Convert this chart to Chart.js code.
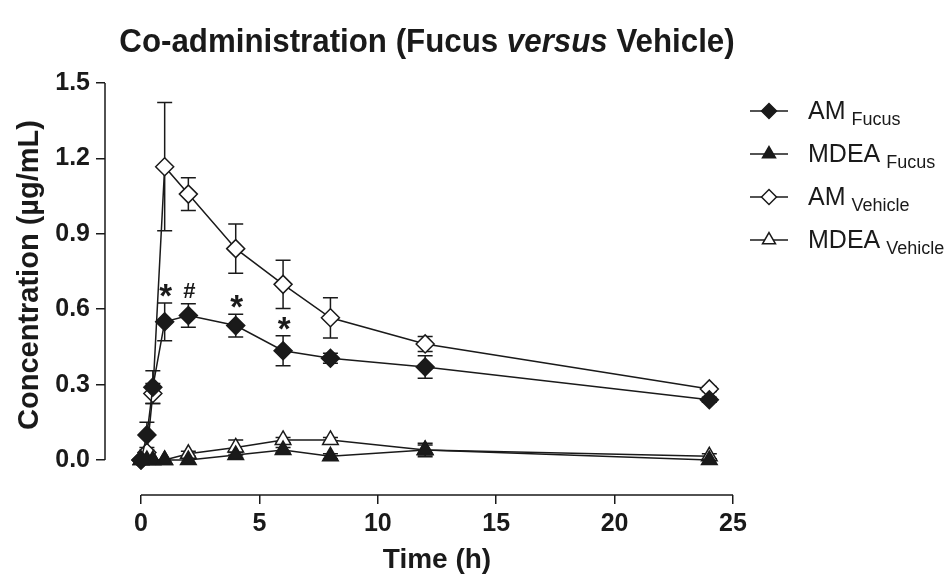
<!DOCTYPE html>
<html>
<head>
<meta charset="utf-8">
<title>Co-administration (Fucus versus Vehicle)</title>
<script src="https://cdn.jsdelivr.net/npm/chart.js@4.4.1/dist/chart.umd.min.js"></script>
<style>
  html, body { margin: 0; padding: 0; background: #fff; }
  #wrap { width: 952px; height: 574px; }
</style>
</head>
<body>
<div id="wrap"><canvas id="chart" width="952" height="574"></canvas></div>
<script>
// Sampling times (h)
const times = [0, 0.25, 0.5, 1, 2, 4, 6, 8, 12, 24];

// Mean concentration (µg/mL) and SEM per group
const amFucus        = [0, 0.10, 0.29, 0.55, 0.575, 0.535, 0.435, 0.405, 0.37, 0.24];
const amFucusSem     = [0, 0.05, 0.065, 0.075, 0.047, 0.045, 0.06, 0.02, 0.045, 0.01];
const mdeaFucus      = [0, 0, 0, 0, 0.0, 0.02, 0.04, 0.015, 0.04, 0.0];
const mdeaFucusSem   = [0, 0, 0, 0, 0, 0.01, 0.01, 0.01, 0.027, 0];
const amVehicle      = [0, 0.03, 0.265, 1.167, 1.058, 0.841, 0.699, 0.566, 0.462, 0.283];
const amVehicleSem   = [0, 0.01, 0.04, 0.255, 0.065, 0.098, 0.096, 0.08, 0.03, 0.01];
const mdeaVehicle    = [0, 0, 0, 0, 0.025, 0.05, 0.08, 0.08, 0.04, 0.015];
const mdeaVehicleSem = [0, 0, 0, 0, 0.01, 0.03, 0.01, 0.01, 0.02, 0.01];

// Legend text: main name + subscript group
const legendMain = ['AM', 'MDEA', 'AM', 'MDEA'];
const legendSub  = ['Fucus', 'Fucus', 'Vehicle', 'Vehicle'];

// Axis ticks
const xTicks = [0, 5, 10, 15, 20, 25];
const yTicks = [0, 0.3, 0.6, 0.9, 1.2, 1.5];

// Significance marks shown above AM Fucus
const markTimes   = [1, 2, 4, 6];
const markSymbols = ['*', '#', '*', '*'];

const INK = '#1a1a1a';
const SANS = '"Liberation Sans", Arial, Helvetica, sans-serif';

function series(values, sem, style, filled) {
  return {
    data: times.map((t, i) => ({ x: t, y: values[i] })),
    sem: sem,
    borderColor: INK,
    borderWidth: 1.5,
    pointStyle: style,
    pointRadius: style === 'triangle' ? 9 : 9,
    pointBackgroundColor: filled ? INK : '#fff',
    pointBorderColor: INK,
    pointBorderWidth: 1.5,
    fill: false,
    tension: 0,
    clip: false
  };
}

// Vertical SEM bars with caps, drawn under the lines and markers
const errorBars = {
  id: 'errorBars',
  beforeDatasetsDraw(chart) {
    const { ctx, scales: { x, y } } = chart;
    ctx.save();
    ctx.strokeStyle = INK;
    ctx.lineWidth = 1.5;
    chart.data.datasets.forEach(ds => {
      ds.data.forEach((p, j) => {
        const e = ds.sem[j];
        if (!e) return;
        const px = x.getPixelForValue(p.x);
        const top = y.getPixelForValue(p.y + e);
        const bot = y.getPixelForValue(p.y - e);
        ctx.beginPath();
        ctx.moveTo(px, top); ctx.lineTo(px, bot);
        ctx.moveTo(px - 7.5, top); ctx.lineTo(px + 7.5, top);
        ctx.moveTo(px - 7.5, bot); ctx.lineTo(px + 7.5, bot);
        ctx.stroke();
      });
    });
    ctx.restore();
  }
};

// Detached axis lines: y spans 0..1.5, x spans 0..25
const axisLines = {
  id: 'axisLines',
  beforeDatasetsDraw(chart) {
    const { ctx, chartArea, scales: { x, y } } = chart;
    ctx.save();
    ctx.strokeStyle = INK;
    ctx.lineWidth = 1.5;
    ctx.beginPath();
    ctx.moveTo(chartArea.left, y.getPixelForValue(yTicks[yTicks.length - 1]));
    ctx.lineTo(chartArea.left, y.getPixelForValue(yTicks[0]));
    ctx.moveTo(x.getPixelForValue(xTicks[0]), chartArea.bottom);
    ctx.lineTo(x.getPixelForValue(xTicks[xTicks.length - 1]), chartArea.bottom);
    ctx.stroke();
    ctx.restore();
  }
};

// * and # above the AM Fucus error bars
const sigMarks = {
  id: 'sigMarks',
  afterDatasetsDraw(chart) {
    const { ctx, scales: { x, y } } = chart;
    ctx.save();
    ctx.fillStyle = INK;
    ctx.textAlign = 'center';
    ctx.textBaseline = 'alphabetic';
    markTimes.forEach((t, k) => {
      const i = times.indexOf(t);
      const top = y.getPixelForValue(amFucus[i] + amFucusSem[i]);
      const cy = top - 14;
      const sym = markSymbols[k];
      if (sym === '*') {
        ctx.font = 'bold 33px ' + SANS;
        ctx.fillText(sym, x.getPixelForValue(t) + 1, cy + 18);
      } else {
        ctx.font = 'bold 22px ' + SANS;
        ctx.fillText(sym, x.getPixelForValue(t) + 1, cy + 8);
      }
    });
    ctx.restore();
  }
};

// Title, axis titles and the legend with subscripted group names
const labels = {
  id: 'labels',
  afterDraw(chart) {
    const { ctx, scales: { x } } = chart;
    ctx.save();
    ctx.fillStyle = INK;
    ctx.textBaseline = 'alphabetic';

    // chart title, "versus" in italics, set slightly condensed
    const parts = [
      ['bold', 'Co-administration (Fucus '],
      ['italic bold', 'versus'],
      ['bold', ' Vehicle)']
    ];
    const titleSize = 34;
    const squeeze = 0.92;
    let total = 0;
    parts.forEach(p => {
      ctx.font = p[0] + ' ' + titleSize + 'px ' + SANS;
      total += ctx.measureText(p[1]).width;
    });
    ctx.save();
    ctx.translate(427 - total * squeeze / 2, 52);
    ctx.scale(squeeze, 1);
    ctx.textAlign = 'left';
    let tx = 0;
    parts.forEach(p => {
      ctx.font = p[0] + ' ' + titleSize + 'px ' + SANS;
      ctx.fillText(p[1], tx, 0);
      tx += ctx.measureText(p[1]).width;
    });
    ctx.restore();

    // x axis title, centred on the drawn axis line
    ctx.font = 'bold 28px ' + SANS;
    ctx.textAlign = 'center';
    const xMid = (x.getPixelForValue(xTicks[0]) + x.getPixelForValue(xTicks[xTicks.length - 1])) / 2;
    ctx.fillText('Time (h)', xMid, 568);

    // y axis title
    ctx.save();
    ctx.translate(38, 275);
    ctx.rotate(-Math.PI / 2);
    ctx.font = 'bold 29px ' + SANS;
    ctx.fillText('Concentration (\u00b5g/mL)', 0, 0);
    ctx.restore();

    // legend
    const drawPoint = Chart.helpers && Chart.helpers.drawPoint;
    chart.data.datasets.forEach((ds, i) => {
      const ly = 111 + i * 43;
      ctx.strokeStyle = INK;
      ctx.lineWidth = 1.5;
      ctx.beginPath();
      ctx.moveTo(750, ly);
      ctx.lineTo(788, ly);
      ctx.stroke();
      if (drawPoint) {
        ctx.fillStyle = ds.pointBackgroundColor;
        drawPoint(ctx, { pointStyle: ds.pointStyle, radius: 7.5, rotation: 0, borderWidth: 1.5 }, 769, ly);
      }
      ctx.fillStyle = INK;
      ctx.textAlign = 'left';
      ctx.font = '25px ' + SANS;
      ctx.fillText(legendMain[i], 808, ly + 8);
      const w = ctx.measureText(legendMain[i]).width;
      ctx.font = '18px ' + SANS;
      ctx.fillText(legendSub[i], 808 + w + 6, ly + 14);
    });
    ctx.restore();
  }
};

const tickFont = { family: SANS, size: 25, weight: 'bold' };

new Chart(document.getElementById('chart'), {
  type: 'line',
  data: {
    datasets: [
      series(amFucus, amFucusSem, 'rectRot', true),
      series(mdeaFucus, mdeaFucusSem, 'triangle', true),
      series(amVehicle, amVehicleSem, 'rectRot', false),
      series(mdeaVehicle, mdeaVehicleSem, 'triangle', false)
    ]
  },
  options: {
    responsive: false,
    animation: false,
    devicePixelRatio: 1,
    layout: { padding: { top: 83, right: 219, left: 0, bottom: 0 } },
    plugins: { legend: { display: false }, tooltip: { enabled: false } },
    scales: {
      x: {
        type: 'linear',
        min: -1.52,
        max: 25,
        afterBuildTicks: s => { s.ticks = xTicks.map(v => ({ value: v })); },
        afterFit: s => { s.height = 79; },
        border: { display: false },
        grid: { drawOnChartArea: false, drawTicks: true, tickLength: 9, color: INK, lineWidth: 1.5 },
        ticks: { font: tickFont, color: INK, padding: 5, maxRotation: 0, autoSkip: false, callback: v => String(v) }
      },
      y: {
        type: 'linear',
        min: -0.139,
        max: 1.5,
        afterBuildTicks: s => { s.ticks = yTicks.map(v => ({ value: v })); },
        afterFit: s => { s.width = 105; },
        border: { display: false },
        grid: { drawOnChartArea: false, drawTicks: true, tickLength: 9, color: INK, lineWidth: 1.5 },
        ticks: { font: tickFont, color: INK, padding: 6, callback: v => v.toFixed(1) }
      }
    }
  },
  plugins: [errorBars, axisLines, sigMarks, labels]
});
</script>
</body>
</html>
